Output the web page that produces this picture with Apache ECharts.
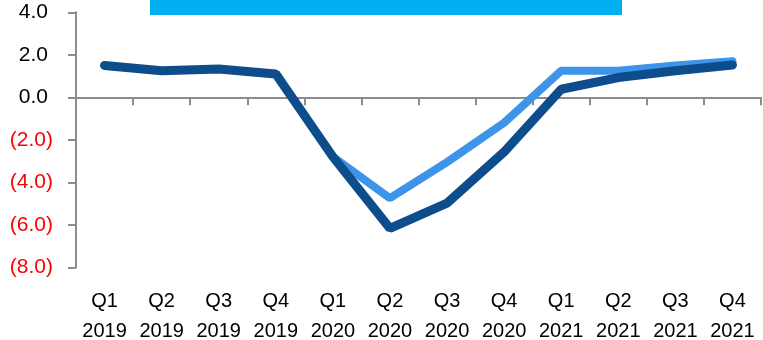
<!DOCTYPE html>
<html>
<head>
<meta charset="utf-8">
<script src="https://cdn.jsdelivr.net/npm/echarts@6/dist/echarts.min.js"></script>
<style>
  html, body { margin: 0; padding: 0; background: #fff; }
  #chart { width: 763px; height: 340px; }
</style>
</head>
<body>
<div id="chart"></div>
<script>
// Quarterly growth, actual vs. revised path
const quarters = ['Q1\n2019', 'Q2\n2019', 'Q3\n2019', 'Q4\n2019',
                  'Q1\n2020', 'Q2\n2020', 'Q3\n2020', 'Q4\n2020',
                  'Q1\n2021', 'Q2\n2021', 'Q3\n2021', 'Q4\n2021'];
const baseline = [1.5, 1.25, 1.33, 1.1, -2.8, -6.17, -4.98, -2.57, 0.38, 0.93, 1.25, 1.52];
const revised  = [null, null, null, null, -2.8, -4.75, -3.05, -1.2, 1.25, 1.25, 1.5, 1.7];
const yTicks = { min: -8, max: 4, step: 2 };

const axisGrey = '#8c8c8c';

const chart = echarts.init(document.getElementById('chart'), null, { renderer: 'canvas' });

// shared scale for the two overlaid value axes
const yScale = { type: 'value', min: yTicks.min, max: yTicks.max, interval: yTicks.step, position: 'left', splitLine: { show: false } };

chart.setOption({
  animation: false,
  backgroundColor: '#fff',
  grid: {
    left: 76, right: 2, top: 12.3, bottom: 72.7,
    containLabel: false,
    outerBoundsMode: 'none'
  },
  graphic: [{
    type: 'rect',
    shape: { x: 150, y: 0, width: 472, height: 15 },
    style: { fill: '#00B0F0' }
  }],
  xAxis: [
    {
      // category labels along the bottom edge
      type: 'category',
      data: quarters,
      position: 'bottom',
      boundaryGap: true,
      axisLine: { show: false, onZero: false },
      axisTick: { show: false },
      axisLabel: {
        interval: 0,
        margin: 19,
        fontFamily: 'Liberation Sans',
        fontSize: 20,
        lineHeight: 30,
        color: '#000'
      }
    },
    {
      // axis line through zero with downward ticks
      type: 'category',
      data: quarters,
      position: 'top',
      boundaryGap: true,
      axisLine: { show: true, onZero: true, onZeroAxisIndex: 0, lineStyle: { color: axisGrey, width: 2 } },
      axisTick: { show: true, inside: true, length: 8, interval: 0, lineStyle: { color: axisGrey, width: 2 } },
      axisLabel: { show: false }
    }
  ],
  yAxis: [
    Object.assign({}, yScale, {
      // axis line, ticks and the non-negative labels
      axisLine: { show: true, lineStyle: { color: axisGrey, width: 2 } },
      axisTick: { show: true, length: 8, lineStyle: { color: axisGrey, width: 2 } },
      axisLabel: {
        margin: 28,
        fontFamily: 'Liberation Sans',
        fontSize: 21,
        color: '#000000',
        formatter: function (v) { return v >= 0 ? v.toFixed(1) : ''; }
      }
    }),
    Object.assign({}, yScale, {
      // negative labels, bracketed in red
      axisLine: { show: false },
      axisTick: { show: false },
      axisLabel: {
        margin: 23,
        fontFamily: 'Liberation Sans',
        fontSize: 21,
        color: '#ff0000',
        formatter: function (v) { return v < 0 ? '(' + Math.abs(v).toFixed(1) + ')' : ''; }
      }
    })
  ],
  series: [
    {
      name: 'Revised',
      type: 'line',
      xAxisIndex: 0,
      yAxisIndex: 0,
      data: revised,
      showSymbol: false,
      symbol: 'none',
      connectNulls: false,
      lineStyle: { color: '#3D94E8', width: 8, cap: 'round' },
      z: 2
    },
    {
      name: 'Baseline',
      type: 'line',
      xAxisIndex: 0,
      yAxisIndex: 0,
      data: baseline,
      showSymbol: false,
      symbol: 'none',
      lineStyle: { color: '#0E4D8B', width: 9, cap: 'round' },
      z: 3
    }
  ]
});
</script>
</body>
</html>
